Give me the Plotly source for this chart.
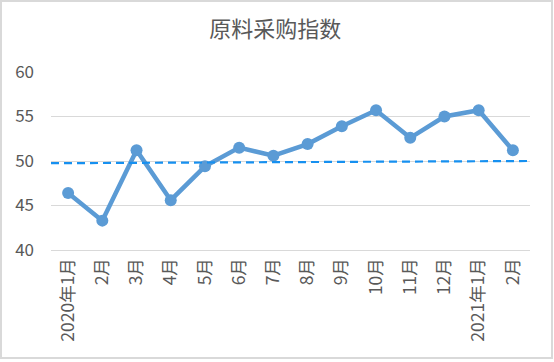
import plotly.graph_objects as go

categories = ["2020年1月", "2月", "3月", "4月", "5月", "6月", "7月", "8月", "9月",
              "10月", "11月", "12月", "2021年1月", "2月"]
cat_ids = list(range(len(categories)))
values = [46.4, 43.3, 51.2, 45.6, 49.4, 51.5, 50.6, 51.9, 53.9, 55.7, 52.6, 55.0, 55.7, 51.2]
ref_x = [0, 1]
ref_values = [49.75, 50.0]
y_ticks = [40, 45, 50, 55, 60]

FONT = "Noto Sans CJK SC, Microsoft YaHei, sans-serif"
GREY = "#595959"

fig = go.Figure()
fig.add_trace(go.Scatter(
    x=ref_x, y=ref_values, mode="lines", xaxis="x2", yaxis="y",
    line=dict(color="#1690F0", width=2.2, dash="8px,5px"),
    hoverinfo="skip", showlegend=False))
fig.add_trace(go.Scatter(
    x=cat_ids, y=values, mode="lines+markers",
    line=dict(color="#5B9BD5", width=4.5),
    marker=dict(color="#5B9BD5", size=12),
    showlegend=False))

fig.update_layout(
    width=554, height=362,
    margin=dict(l=51, r=24, t=72, b=112),
    paper_bgcolor="white", plot_bgcolor="white",
    font=dict(family=FONT, color=GREY),
    title=dict(text="原料采购指数", x=0.497, xanchor="center", y=0.918, yanchor="middle",
               font=dict(size=22, color=GREY, family=FONT)),
    xaxis=dict(tickmode="array", tickvals=cat_ids, ticktext=categories,
               range=[-0.5, len(categories) - 0.5],
               tickangle=-90, tickfont=dict(size=17.5, color=GREY),
               showgrid=False, showline=True, linecolor="#D9D9D9", linewidth=1.3,
               ticks="", zeroline=False),
    xaxis2=dict(range=[0, 1], overlaying="x", visible=False, fixedrange=True),
    yaxis=dict(range=[40, 60], tickvals=y_ticks, tickfont=dict(size=17, color=GREY),
               showgrid=True, gridcolor="#D9D9D9", gridwidth=1.3,
               zeroline=False, showline=False, ticks="", ticklabelstandoff=16),
    shapes=[dict(type="rect", xref="paper", yref="paper",
                 x0=-50/479, x1=(552-51)/479, y0=(250-358)/178, y1=(250-1)/178,
                 line=dict(color="#D9D9D9", width=2), fillcolor="rgba(0,0,0,0)", layer="below")],
)

fig.write_html("out.html", config={"displayModeBar": False},
               post_script="document.body.style.margin='0';document.body.style.overflow='hidden';")
